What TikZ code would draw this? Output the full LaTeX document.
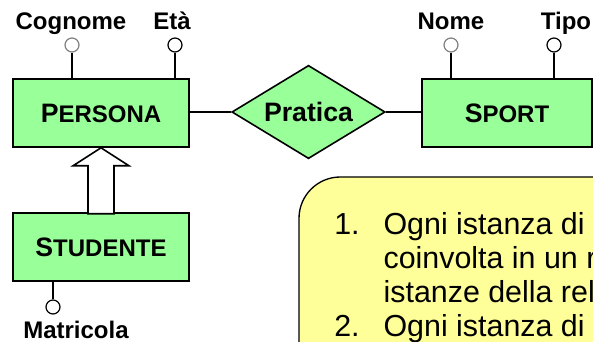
\documentclass[tikz,border=0pt]{standalone}
\usepackage{fontspec}
\setmainfont{Liberation Sans}
\usetikzlibrary{shapes.geometric}

\definecolor{entgreen}{RGB}{153,255,153}
\definecolor{noteyellow}{RGB}{255,255,153}

\tikzset{
  entity/.style={draw, fill=entgreen, line width=1.2pt, minimum width=132pt, minimum height=51pt, inner sep=0pt, font=\bfseries},
  relation/.style={draw, diamond, aspect=1.6, fill=entgreen, line width=1.2pt, minimum width=115pt, minimum height=70pt, inner sep=0pt, font=\fontsize{20}{24}\selectfont\bfseries},
  attr/.style={draw, circle, fill=white, line width=0.9pt, minimum size=10.5pt, inner sep=0pt},
  keyattr/.style={attr, draw=gray},
  attrname/.style={font=\fontsize{18}{22}\selectfont\bfseries, inner sep=0pt, anchor=base},
  link/.style={line width=2pt},
  isa/.style={draw, fill=white, line width=1.2pt, line join=miter},
  notebox/.style={draw, fill=noteyellow, line width=1pt, rounded corners=31pt},
  notetext/.style={font=\fontsize{22.8}{25.3}\selectfont, inner sep=0pt, align=left}
}
\newcommand{\entname}[2]{{\fontsize{20}{24}\selectfont #1}{\fontsize{18}{22}\selectfont #2}}

\begin{document}
\begin{tikzpicture}[x=0.75pt, y=-0.75pt]
    \clip (0,0) rectangle (593,342);
    \node[entity] (persona) at (101,113) {\entname{P}{ERSONA}};
    \node[entity] (studente) at (101,247) {\entname{S}{TUDENTE}};
    \node[entity, minimum width=127.5pt] (sport) at (507,113) {\entname{S}{PORT}};
    \node[relation] (pratica) at (308.5,112) {Pratica};

    \node[keyattr] (cognome) at (72,45) {};
    \node[attr] (eta) at (175,45) {};
    \node[keyattr] (nome) at (451,45) {};
    \node[attr] (tipo) at (554,45) {};
    \node[attr] (matricola) at (53,307) {};
    \node[attrname] (lcognome) at (71,30) {Cognome};
    \node[attrname] (leta) at (172,30) {Età};
    \node[attrname] (lnome) at (451,30) {Nome};
    \node[attrname] (ltipo) at (566,30) {Tipo};
    \node[attrname] (lmatricola) at (76,338) {Matricola};

    \draw[link] (cognome) -- (cognome |- persona.north);
    \draw[link] (eta) -- (eta |- persona.north);
    \draw[link] (nome) -- (nome |- sport.north);
    \draw[link] (tipo) -- (tipo |- sport.north);
    \draw[link] (matricola) -- (matricola |- studente.south);
    \draw[link] (pratica.west) -- (pratica.west -| persona.east);
    \draw[link] (pratica.east) -- (pratica.east -| sport.west);

    \draw[isa] (persona.south) -- ++(-28,18) -- ++(15,0) -- ++(0,48) -- ++(26,0) -- ++(0,-48) -- ++(15,0) -- cycle;

    \draw[notebox] (299,177) rectangle (720,460);
    \node[notetext, anchor=base west] (nota) at (334,235) {\begin{tabular}[t]{@{}p{37pt}@{}l@{}}
      1. & Ogni istanza di\\
         & coinvolta in un r\\
         & istanze della rel\\
      2. & Ogni istanza di
    \end{tabular}};
  \end{tikzpicture}
\end{document}
